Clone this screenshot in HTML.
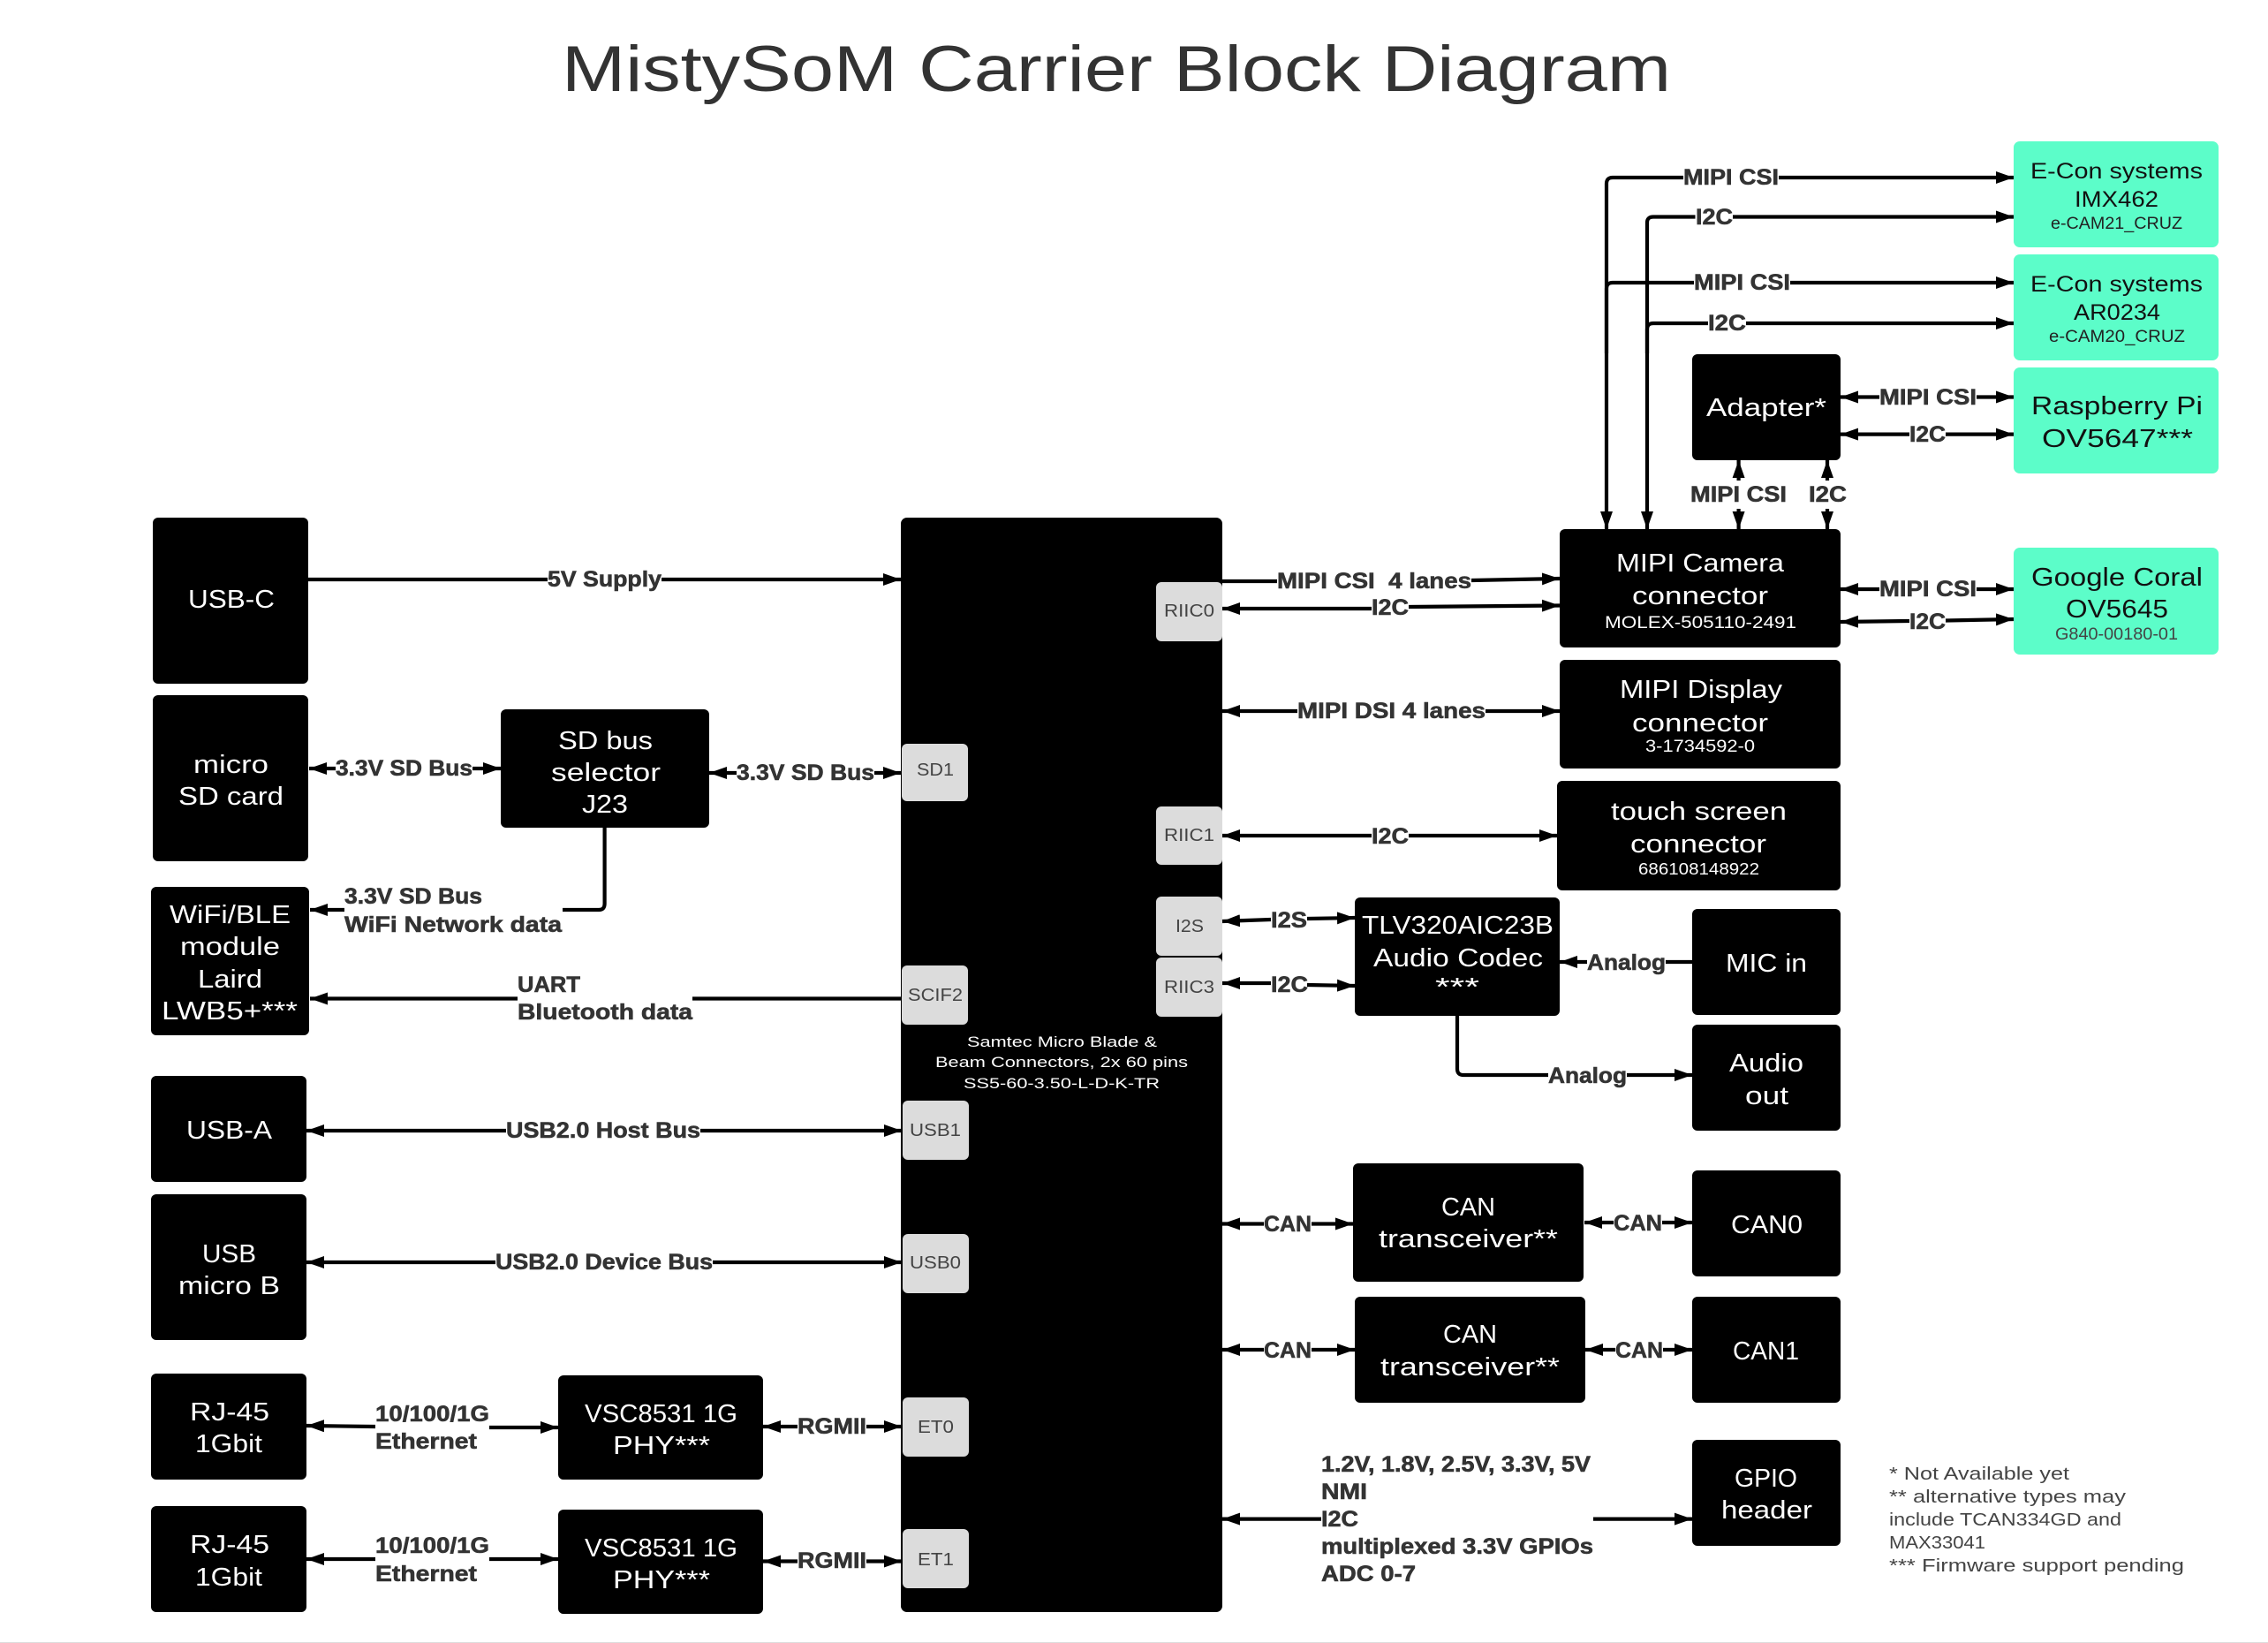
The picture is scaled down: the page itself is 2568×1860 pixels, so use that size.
<!DOCTYPE html>
<html><head><meta charset="utf-8"><title>MistySoM Carrier Block Diagram</title>
<style>
html,body{margin:0;padding:0;background:#fff}
svg{display:block}
text{font-family:"Liberation Sans",sans-serif}
.b{fill:#000}.t{fill:#5cfdc9}.c{fill:#dcdcdc}
.w{fill:#fff;font-size:29px}
.k{fill:#111;font-size:29px}
.k2{fill:#111;font-size:25px}
.ks{fill:#222;font-size:19px}
.ws{fill:#fff;font-size:19px}
.chip{fill:#444;font-size:20px}
.l{fill:#333;font-size:25px;font-weight:bold;stroke:#333;stroke-width:.6px}
.n{fill:#444;font-size:20px}
.sm{fill:#fff;font-size:17px}
.p path{fill:none;stroke:#000;stroke-width:4.2}
.e{marker-end:url(#h)}
.s{marker-start:url(#h)}
</style></head><body>
<svg xmlns="http://www.w3.org/2000/svg" width="2568" height="1860" viewBox="0 0 2568 1860">
<defs><marker id="h" markerUnits="userSpaceOnUse" markerWidth="22" markerHeight="16" refX="20" refY="7" orient="auto-start-reverse"><path d="M0 0L20 7L0 14Z" fill="#000"/></marker></defs>
<rect width="2568" height="1860" fill="#fff"/>
<rect y="1859" width="2568" height="1" fill="#ddd"/>
<text x="636" y="103" font-size="73" fill="#333" textLength="1256" lengthAdjust="spacingAndGlyphs">MistySoM Carrier Block Diagram</text>

<!-- left boxes -->
<rect class="b" x="173" y="586" width="176" height="188" rx="6"/>
<rect class="b" x="173" y="787" width="176" height="188" rx="6"/>
<rect class="b" x="567" y="803" width="236" height="134" rx="6"/>
<rect class="b" x="171" y="1004" width="179" height="168" rx="6"/>
<rect class="b" x="171" y="1218" width="176" height="120" rx="6"/>
<rect class="b" x="171" y="1352" width="176" height="165" rx="6"/>
<rect class="b" x="171" y="1555" width="176" height="120" rx="6"/>
<rect class="b" x="171" y="1705" width="176" height="120" rx="6"/>
<rect class="b" x="632" y="1557" width="232" height="118" rx="6"/>
<rect class="b" x="632" y="1709" width="232" height="118" rx="6"/>

<!-- SoM -->
<rect class="b" x="1020" y="586" width="364" height="1239" rx="7"/>
<rect class="c" x="1021" y="842" width="75" height="65" rx="6"/>
<rect class="c" x="1021" y="1093" width="75" height="67" rx="6"/>
<rect class="c" x="1022" y="1246" width="75" height="67" rx="6"/>
<rect class="c" x="1022" y="1397" width="75" height="67" rx="6"/>
<rect class="c" x="1022" y="1582" width="75" height="67" rx="6"/>
<rect class="c" x="1022" y="1731" width="75" height="67" rx="6"/>
<rect class="c" x="1309" y="659" width="75" height="67" rx="6"/>
<rect class="c" x="1309" y="913" width="75" height="66" rx="6"/>
<rect class="c" x="1309" y="1015" width="75" height="67" rx="6"/>
<rect class="c" x="1309" y="1084" width="75" height="67" rx="6"/>

<!-- right boxes -->
<rect class="t" x="2280" y="160" width="232" height="120" rx="7"/>
<rect class="t" x="2280" y="288" width="232" height="120" rx="7"/>
<rect class="t" x="2280" y="416" width="232" height="120" rx="7"/>
<rect class="t" x="2280" y="620" width="232" height="121" rx="7"/>
<rect class="b" x="1916" y="401" width="168" height="120" rx="6"/>
<rect class="b" x="1766" y="599" width="318" height="134" rx="6"/>
<rect class="b" x="1766" y="747" width="318" height="123" rx="6"/>
<rect class="b" x="1763" y="884" width="321" height="124" rx="6"/>
<rect class="b" x="1534" y="1016" width="232" height="134" rx="6"/>
<rect class="b" x="1916" y="1029" width="168" height="120" rx="6"/>
<rect class="b" x="1916" y="1160" width="168" height="120" rx="6"/>
<rect class="b" x="1532" y="1317" width="261" height="134" rx="6"/>
<rect class="b" x="1916" y="1325" width="168" height="120" rx="6"/>
<rect class="b" x="1534" y="1468" width="261" height="120" rx="6"/>
<rect class="b" x="1916" y="1468" width="168" height="120" rx="6"/>
<rect class="b" x="1916" y="1630" width="168" height="120" rx="6"/>

<!-- connectors -->
<g class="p">
<path d="M349 656H620"/><path class="e" d="M749 656H1020"/>
<path class="s" d="M350 870H380"/><path class="e" d="M535 870H567"/>
<path class="s" d="M803 875H834"/><path class="e" d="M990 875H1020"/>
<path d="M684.6 936V1023Q684.6 1030 678 1030H637"/><path class="e" d="M390 1030H351"/>
<path class="e" d="M586 1130.5H351"/><path d="M784 1130.5H1020"/>
<path class="s" d="M347 1280H573"/><path class="e" d="M793 1280H1021"/>
<path class="s" d="M347 1429H561"/><path class="e" d="M807 1429H1021"/>
<path class="s" d="M347 1614L425 1615"/><path class="e" d="M554 1616H632"/>
<path class="s" d="M347 1765H425"/><path class="e" d="M554 1765H632"/>
<path class="s" d="M864 1615H903"/><path class="e" d="M981 1615H1021"/>
<path class="s" d="M864 1767.5H903"/><path class="e" d="M981 1767.5H1021"/>

<path class="e" d="M1906 201H1826Q1819 201 1819 208V599"/><path class="e" d="M2014 201H2280"/>
<path class="e" d="M1919.5 245.5H1872Q1865 245.5 1865 252V599"/><path class="e" d="M1962 245.5H2280"/>
<path d="M1918 320H1826Q1819 320 1819 327V400"/><path class="e" d="M2027 320H2280"/>
<path d="M1934 366H1872Q1865 366 1865 373V400"/><path class="e" d="M1977 366H2280"/>
<path class="s" d="M2084 449.5H2128"/><path class="e" d="M2238 449.5H2280"/>
<path class="s" d="M2084 491.6H2162"/><path class="e" d="M2203 491.6H2280"/>
<path class="s" d="M1968.6 521V544"/><path class="e" d="M1968.6 576V599"/>
<path class="s" d="M2069 521V544"/><path class="e" d="M2069 576V599"/>
<path class="s" d="M2084 667H2128"/><path class="e" d="M2238 667H2280"/>
<path class="s" d="M2084 704L2162 703"/><path class="e" d="M2203 702.5L2280 701"/>
<path d="M1384 658H1446"/><path class="e" d="M1666 657L1766 655"/>
<path class="s" d="M1384 689H1553"/><path class="e" d="M1595 687L1766 685.5"/>
<path class="s" d="M1384 805H1469"/><path class="e" d="M1682 805H1766"/>
<path class="s" d="M1384 946H1553"/><path class="e" d="M1595 946H1763"/>
<path class="s" d="M1384 1043L1439 1041"/><path class="e" d="M1480 1040L1534 1039"/>
<path class="s" d="M1384 1113H1439"/><path class="e" d="M1480 1115L1534 1116"/>
<path class="e" d="M1797 1089H1766"/><path d="M1886 1089H1916"/>
<path d="M1650 1149V1210Q1650 1217 1657 1217H1753"/><path class="e" d="M1842 1217H1916"/>
<path class="s" d="M1384 1385.5H1431"/><path class="e" d="M1485 1385.5H1532"/>
<path class="s" d="M1384 1528H1431"/><path class="e" d="M1485 1528H1534"/>
<path class="s" d="M1794 1384H1827"/><path class="e" d="M1882 1384H1916"/>
<path class="s" d="M1795 1528H1829"/><path class="e" d="M1883 1528H1916"/>
<path class="s" d="M1384 1719.6H1496"/><path class="e" d="M1804 1719.6H1916"/>
</g>

<g transform="translate(0,-1)">
<!-- box labels -->
<text class="w" lengthAdjust="spacingAndGlyphs" x="213" y="689" textLength="98">USB-C</text>
<text class="w" lengthAdjust="spacingAndGlyphs" x="219" y="876" textLength="85">micro</text>
<text class="w" lengthAdjust="spacingAndGlyphs" x="202" y="912" textLength="119">SD card</text>
<text class="w" lengthAdjust="spacingAndGlyphs" x="632" y="849" textLength="107">SD bus</text>
<text class="w" lengthAdjust="spacingAndGlyphs" x="624" y="885" textLength="124">selector</text>
<text class="w" lengthAdjust="spacingAndGlyphs" x="659" y="921" textLength="52">J23</text>
<text class="w" lengthAdjust="spacingAndGlyphs" x="192" y="1046" textLength="137">WiFi/BLE</text>
<text class="w" lengthAdjust="spacingAndGlyphs" x="204" y="1082" textLength="113">module</text>
<text class="w" lengthAdjust="spacingAndGlyphs" x="224" y="1119" textLength="73">Laird</text>
<text class="w" lengthAdjust="spacingAndGlyphs" x="183" y="1155" textLength="154">LWB5+***</text>
<text class="w" lengthAdjust="spacingAndGlyphs" x="211" y="1290" textLength="97">USB-A</text>
<text class="w" lengthAdjust="spacingAndGlyphs" x="229" y="1430" textLength="61">USB</text>
<text class="w" lengthAdjust="spacingAndGlyphs" x="202" y="1466" textLength="115">micro B</text>
<text class="w" lengthAdjust="spacingAndGlyphs" x="215" y="1609" textLength="90">RJ-45</text>
<text class="w" lengthAdjust="spacingAndGlyphs" x="221" y="1645" textLength="76">1Gbit</text>
<text class="w" lengthAdjust="spacingAndGlyphs" x="215" y="1759" textLength="90">RJ-45</text>
<text class="w" lengthAdjust="spacingAndGlyphs" x="221" y="1796" textLength="76">1Gbit</text>
<text class="w" lengthAdjust="spacingAndGlyphs" x="662" y="1611" textLength="173">VSC8531 1G</text>
<text class="w" lengthAdjust="spacingAndGlyphs" x="694" y="1647" textLength="110">PHY***</text>
<text class="w" lengthAdjust="spacingAndGlyphs" x="662" y="1763" textLength="173">VSC8531 1G</text>
<text class="w" lengthAdjust="spacingAndGlyphs" x="694" y="1799" textLength="110">PHY***</text>

<text class="chip" lengthAdjust="spacingAndGlyphs" x="1038" y="879" textLength="42">SD1</text>
<text class="chip" lengthAdjust="spacingAndGlyphs" x="1028" y="1134" textLength="62">SCIF2</text>
<text class="chip" lengthAdjust="spacingAndGlyphs" x="1030" y="1287" textLength="58">USB1</text>
<text class="chip" lengthAdjust="spacingAndGlyphs" x="1030" y="1437" textLength="58">USB0</text>
<text class="chip" lengthAdjust="spacingAndGlyphs" x="1039" y="1623" textLength="41">ET0</text>
<text class="chip" lengthAdjust="spacingAndGlyphs" x="1039" y="1773" textLength="41">ET1</text>
<text class="chip" lengthAdjust="spacingAndGlyphs" x="1318" y="699" textLength="57">RIIC0</text>
<text class="chip" lengthAdjust="spacingAndGlyphs" x="1318" y="953" textLength="57">RIIC1</text>
<text class="chip" lengthAdjust="spacingAndGlyphs" x="1331" y="1056" textLength="32">I2S</text>
<text class="chip" lengthAdjust="spacingAndGlyphs" x="1318" y="1125" textLength="57">RIIC3</text>
<text class="sm" lengthAdjust="spacingAndGlyphs" x="1095" y="1186" textLength="215">Samtec Micro Blade &amp;</text>
<text class="sm" lengthAdjust="spacingAndGlyphs" x="1059" y="1209" textLength="286">Beam Connectors, 2x 60 pins</text>
<text class="sm" lengthAdjust="spacingAndGlyphs" x="1091" y="1233" textLength="222">SS5-60-3.50-L-D-K-TR</text>

<text class="k2" lengthAdjust="spacingAndGlyphs" x="2299" y="203" textLength="195">E-Con systems</text>
<text class="k2" lengthAdjust="spacingAndGlyphs" x="2349" y="235" textLength="95">IMX462</text>
<text class="ks" lengthAdjust="spacingAndGlyphs" x="2322" y="260" textLength="149">e-CAM21_CRUZ</text>
<text class="k2" lengthAdjust="spacingAndGlyphs" x="2299" y="331" textLength="195">E-Con systems</text>
<text class="k2" lengthAdjust="spacingAndGlyphs" x="2348" y="363" textLength="98">AR0234</text>
<text class="ks" lengthAdjust="spacingAndGlyphs" x="2320" y="388" textLength="154">e-CAM20_CRUZ</text>
<text class="k" lengthAdjust="spacingAndGlyphs" x="2300" y="470" textLength="194">Raspberry Pi</text>
<text class="k" lengthAdjust="spacingAndGlyphs" x="2312" y="507" textLength="171">OV5647***</text>
<text class="k" lengthAdjust="spacingAndGlyphs" x="2300" y="664" textLength="194">Google Coral</text>
<text class="k" lengthAdjust="spacingAndGlyphs" x="2339" y="700" textLength="116">OV5645</text>
<text class="ks" lengthAdjust="spacingAndGlyphs" x="2327" y="725" textLength="139" style="fill:#444">G840-00180-01</text>
<text class="w" lengthAdjust="spacingAndGlyphs" x="1932" y="472" textLength="136">Adapter*</text>
<text class="w" lengthAdjust="spacingAndGlyphs" x="1830" y="648" textLength="190">MIPI Camera</text>
<text class="w" lengthAdjust="spacingAndGlyphs" x="1848" y="685" textLength="154">connector</text>
<text class="ws" lengthAdjust="spacingAndGlyphs" x="1817" y="712" textLength="217">MOLEX-505110-2491</text>
<text class="w" lengthAdjust="spacingAndGlyphs" x="1834" y="791" textLength="184">MIPI Display</text>
<text class="w" lengthAdjust="spacingAndGlyphs" x="1848" y="829" textLength="154">connector</text>
<text class="ws" lengthAdjust="spacingAndGlyphs" x="1863" y="852" textLength="124">3-1734592-0</text>
<text class="w" lengthAdjust="spacingAndGlyphs" x="1824" y="929" textLength="199">touch screen</text>
<text class="w" lengthAdjust="spacingAndGlyphs" x="1846" y="966" textLength="154">connector</text>
<text class="ws" style="font-size:18px" lengthAdjust="spacingAndGlyphs" x="1855" y="991" textLength="137">686108148922</text>
<text class="w" lengthAdjust="spacingAndGlyphs" x="1542" y="1058" textLength="217">TLV320AIC23B</text>
<text class="w" lengthAdjust="spacingAndGlyphs" x="1555" y="1095" textLength="192">Audio Codec</text>
<text class="w" lengthAdjust="spacingAndGlyphs" x="1625" y="1128" textLength="50">***</text>
<text class="w" lengthAdjust="spacingAndGlyphs" x="1954" y="1101" textLength="92">MIC in</text>
<text class="w" lengthAdjust="spacingAndGlyphs" x="1958" y="1214" textLength="84">Audio</text>
<text class="w" lengthAdjust="spacingAndGlyphs" x="1976" y="1251" textLength="49">out</text>
<text class="w" lengthAdjust="spacingAndGlyphs" x="1632" y="1377" textLength="61">CAN</text>
<text class="w" lengthAdjust="spacingAndGlyphs" x="1561" y="1413" textLength="203">transceiver**</text>
<text class="w" lengthAdjust="spacingAndGlyphs" x="1634" y="1521" textLength="61">CAN</text>
<text class="w" lengthAdjust="spacingAndGlyphs" x="1563" y="1558" textLength="203">transceiver**</text>
<text class="w" lengthAdjust="spacingAndGlyphs" x="1960" y="1397" textLength="81">CAN0</text>
<text class="w" lengthAdjust="spacingAndGlyphs" x="1962" y="1540" textLength="75">CAN1</text>
<text class="w" lengthAdjust="spacingAndGlyphs" x="1964" y="1684" textLength="71">GPIO</text>
<text class="w" lengthAdjust="spacingAndGlyphs" x="1949" y="1720" textLength="103">header</text>

<!-- connector labels -->
<text class="l" lengthAdjust="spacingAndGlyphs" x="620" y="665" textLength="129">5V Supply</text>
<text class="l" lengthAdjust="spacingAndGlyphs" x="380" y="879" textLength="155">3.3V SD Bus</text>
<text class="l" lengthAdjust="spacingAndGlyphs" x="834" y="884" textLength="156">3.3V SD Bus</text>
<text class="l" lengthAdjust="spacingAndGlyphs" x="390" y="1024" textLength="156">3.3V SD Bus</text>
<text class="l" lengthAdjust="spacingAndGlyphs" x="390" y="1056" textLength="246">WiFi Network data</text>
<text class="l" lengthAdjust="spacingAndGlyphs" x="586" y="1124" textLength="71">UART</text>
<text class="l" lengthAdjust="spacingAndGlyphs" x="586" y="1155" textLength="198">Bluetooth data</text>
<text class="l" lengthAdjust="spacingAndGlyphs" x="573" y="1289" textLength="220">USB2.0 Host Bus</text>
<text class="l" lengthAdjust="spacingAndGlyphs" x="561" y="1438" textLength="246">USB2.0 Device Bus</text>
<text class="l" lengthAdjust="spacingAndGlyphs" x="425" y="1610" textLength="129">10/100/1G</text>
<text class="l" lengthAdjust="spacingAndGlyphs" x="425" y="1641" textLength="115">Ethernet</text>
<text class="l" lengthAdjust="spacingAndGlyphs" x="425" y="1759" textLength="129">10/100/1G</text>
<text class="l" lengthAdjust="spacingAndGlyphs" x="425" y="1791" textLength="115">Ethernet</text>
<text class="l" lengthAdjust="spacingAndGlyphs" x="903" y="1624" textLength="78">RGMII</text>
<text class="l" lengthAdjust="spacingAndGlyphs" x="903" y="1776" textLength="78">RGMII</text>
<text class="l" lengthAdjust="spacingAndGlyphs" x="1906" y="210" textLength="108">MIPI CSI</text>
<text class="l" lengthAdjust="spacingAndGlyphs" x="1920" y="255" textLength="42">I2C</text>
<text class="l" lengthAdjust="spacingAndGlyphs" x="1918" y="329" textLength="109">MIPI CSI</text>
<text class="l" lengthAdjust="spacingAndGlyphs" x="1934" y="375" textLength="43">I2C</text>
<text class="l" lengthAdjust="spacingAndGlyphs" x="2128" y="459" textLength="110">MIPI CSI</text>
<text class="l" lengthAdjust="spacingAndGlyphs" x="2162" y="501" textLength="41">I2C</text>
<text class="l" lengthAdjust="spacingAndGlyphs" x="1914" y="569" textLength="109">MIPI CSI</text>
<text class="l" lengthAdjust="spacingAndGlyphs" x="2048" y="569" textLength="43">I2C</text>
<text class="l" lengthAdjust="spacingAndGlyphs" x="2128" y="676" textLength="110">MIPI CSI</text>
<text class="l" lengthAdjust="spacingAndGlyphs" x="2162" y="713" textLength="41">I2C</text>
<text class="l" lengthAdjust="spacingAndGlyphs" x="1446" y="667" textLength="220">MIPI CSI&#160;&#160;4 lanes</text>
<text class="l" lengthAdjust="spacingAndGlyphs" x="1553" y="697" textLength="42">I2C</text>
<text class="l" lengthAdjust="spacingAndGlyphs" x="1469" y="814" textLength="213">MIPI DSI 4 lanes</text>
<text class="l" lengthAdjust="spacingAndGlyphs" x="1553" y="956" textLength="42">I2C</text>
<text class="l" lengthAdjust="spacingAndGlyphs" x="1439" y="1051" textLength="41">I2S</text>
<text class="l" lengthAdjust="spacingAndGlyphs" x="1439" y="1124" textLength="42">I2C</text>
<text class="l" lengthAdjust="spacingAndGlyphs" x="1797" y="1099" textLength="89">Analog</text>
<text class="l" lengthAdjust="spacingAndGlyphs" x="1753" y="1227" textLength="89">Analog</text>
<text class="l" lengthAdjust="spacingAndGlyphs" x="1431" y="1395" textLength="54">CAN</text>
<text class="l" lengthAdjust="spacingAndGlyphs" x="1431" y="1538" textLength="54">CAN</text>
<text class="l" lengthAdjust="spacingAndGlyphs" x="1827" y="1394" textLength="55">CAN</text>
<text class="l" lengthAdjust="spacingAndGlyphs" x="1829" y="1538" textLength="54">CAN</text>
<text class="l" lengthAdjust="spacingAndGlyphs" x="1496" y="1667" textLength="305">1.2V, 1.8V, 2.5V, 3.3V, 5V</text>
<text class="l" lengthAdjust="spacingAndGlyphs" x="1496" y="1698" textLength="52">NMI</text>
<text class="l" lengthAdjust="spacingAndGlyphs" x="1496" y="1729" textLength="42">I2C</text>
<text class="l" lengthAdjust="spacingAndGlyphs" x="1496" y="1760" textLength="308">multiplexed 3.3V GPIOs</text>
<text class="l" lengthAdjust="spacingAndGlyphs" x="1496" y="1791" textLength="107">ADC 0-7</text>

<text class="n" lengthAdjust="spacingAndGlyphs" x="2139" y="1676" textLength="204">* Not Available yet</text>
<text class="n" lengthAdjust="spacingAndGlyphs" x="2139" y="1702" textLength="268">** alternative types may</text>
<text class="n" lengthAdjust="spacingAndGlyphs" x="2139" y="1728" textLength="263">include TCAN334GD and</text>
<text class="n" lengthAdjust="spacingAndGlyphs" x="2139" y="1754" textLength="109">MAX33041</text>
<text class="n" lengthAdjust="spacingAndGlyphs" x="2139" y="1780" textLength="334">*** Firmware support pending</text>
</g>
</svg>
</body></html>
